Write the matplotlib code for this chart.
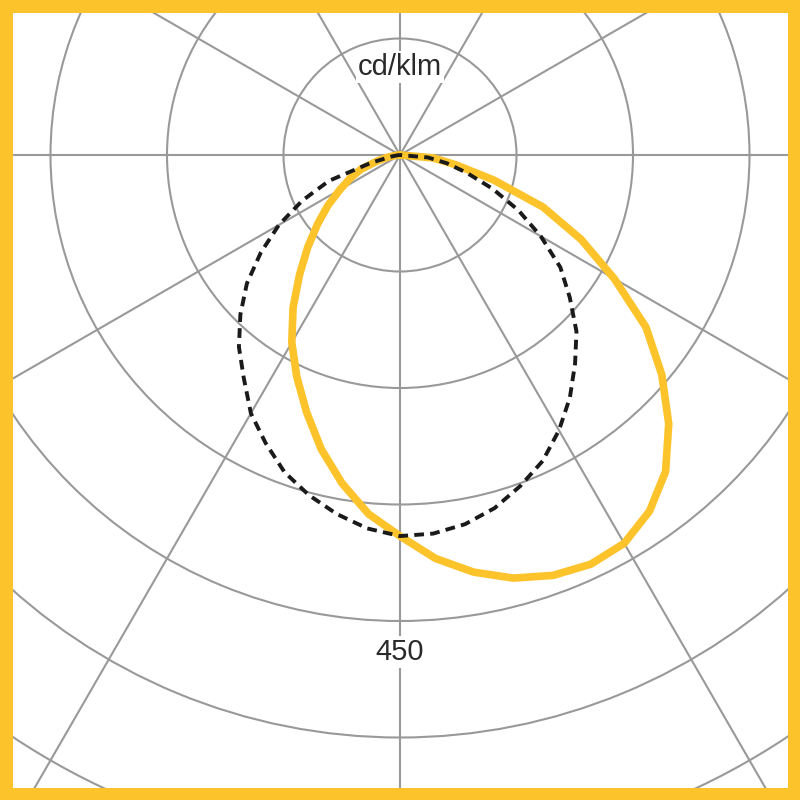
import matplotlib
matplotlib.use('Agg')
import matplotlib.pyplot as plt
import numpy as np
from matplotlib.patches import Rectangle

# Polar light distribution, angles in degrees (0 = straight down, + = right side)
angles = [-90, -85, -80, -75, -70, -65, -60, -55, -50, -45, -40, -35, -30, -25, -20,
          -15, -10, -5, 0, 5, 10, 15, 20, 25, 30, 35, 40, 45, 50, 55, 60, 65, 70, 75,
          80, 85, 90]

# yellow curve (cd/klm)
asym_values = [0, 4, 12, 23, 40, 53, 67, 85, 104, 126, 151, 180, 209, 236, 264,
               294, 322, 348, 368, 391, 409, 423, 432, 436, 433, 420, 399, 367, 330, 290,
               239, 193, 147, 94, 55, 32, 0]

# dashed curve (cd/klm)
ref_values = [0, 2, 8, 29, 73, 104, 135, 164, 193, 218, 242, 263, 288, 307, 326,
              340, 352, 362, 368, 367, 362, 353, 340, 326, 307, 286, 263, 241, 214, 189,
              157, 126, 95, 67, 46, 27, 0]

ring_values = [112.5, 225, 337.5, 450, 562.5, 675, 787.5]
spoke_angles = [0, 30, 60, 90, 120, 150, 180, 210, 240, 270, 300, 330]
unit_label = 'cd/klm'
scale_label = '450'

YELLOW = '#FCC32B'
GRID = '#999999'

fig = plt.figure(figsize=(8, 8), dpi=100)

# centre of the diagram sits at pixel (400, 155); 1 cd/klm ~ 1.0356 px
r_max = 900
px_per_unit = 116.5 / 112.5
R = r_max * px_per_unit
cx, cy = 400, 800 - 155
ax = fig.add_axes([(cx - R) / 800, (cy - R) / 800, 2 * R / 800, 2 * R / 800],
                  projection='polar')
ax.set_theta_zero_location('S')
ax.set_theta_direction(1)
ax.set_rlim(0, r_max)
ax.set_rgrids(ring_values, labels=[''] * len(ring_values))
ax.set_thetagrids(spoke_angles, labels=[''] * len(spoke_angles))
ax.grid(True, color=GRID, linewidth=1.5)
ax.spines['polar'].set_visible(False)
ax.set_facecolor('white')

theta = np.deg2rad(angles)
ax.plot(theta, asym_values, color=YELLOW, linewidth=5.5,
        solid_joinstyle='round', solid_capstyle='round', zorder=3)
ax.plot(theta, ref_values, color='#1a1a1a', linewidth=2.8,
        linestyle=(0, (2.5, 1.6)), zorder=4)

bbox = dict(facecolor='white', edgecolor='none', pad=1.5)
ax.text(np.pi, 85, unit_label, ha='center', va='center', fontsize=21,
        family='Liberation Sans', color='#2a2a2a', bbox=bbox, zorder=5)
ax.text(0, 480, scale_label, ha='center', va='center', fontsize=21,
        family='Liberation Sans', color='#2a2a2a', bbox=bbox, zorder=5)

# yellow frame round the picture
frame = Rectangle((0, 0), 1, 1, transform=fig.transFigure, fill=False,
                  edgecolor=YELLOW, linewidth=18, zorder=10, clip_on=False)
fig.patches.append(frame)

fig.savefig('out.png', dpi=100, facecolor='white')
